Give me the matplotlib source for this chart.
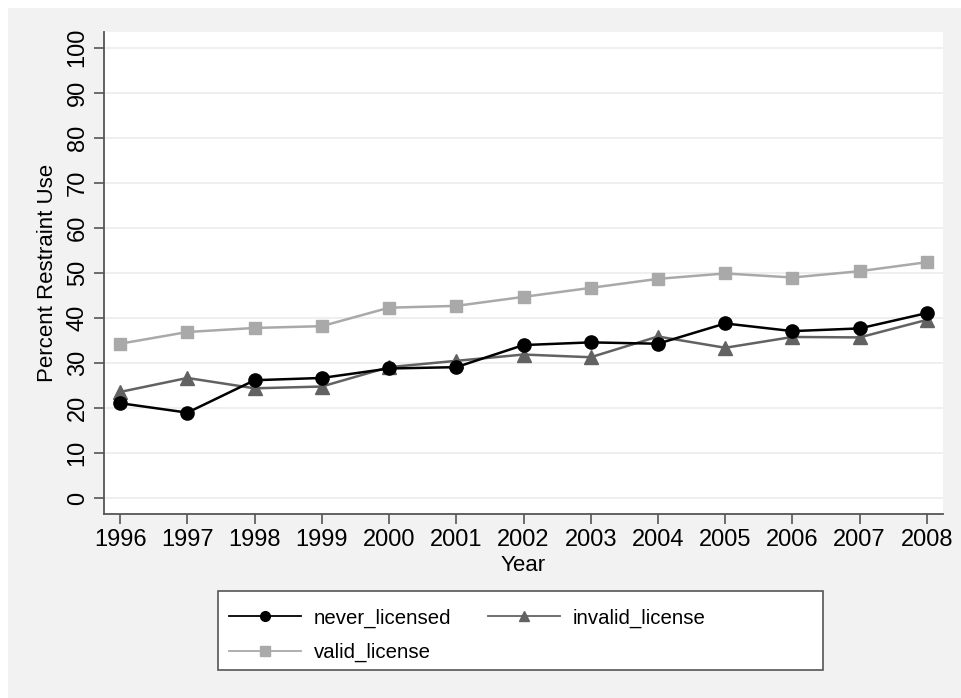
import matplotlib.pyplot as plt
from matplotlib.patches import Rectangle
from matplotlib.lines import Line2D

plt.rcParams['font.family'] = ['Liberation Sans', 'DejaVu Sans']

years = list(range(1996, 2009))
never_licensed = [21.1, 19.0, 26.2, 26.7, 28.8, 29.1, 34.0, 34.6, 34.3, 38.8, 37.1, 37.7, 41.1]
invalid_license = [23.6, 26.7, 24.4, 24.8, 29.1, 30.5, 31.9, 31.3, 35.9, 33.4, 35.8, 35.7, 39.6]
valid_license = [34.3, 36.9, 37.8, 38.2, 42.3, 42.7, 44.7, 46.7, 48.7, 49.9, 49.0, 50.4, 52.4]
y_ticks = list(range(0, 101, 10))

fig = plt.figure(figsize=(9.61, 6.98), dpi=100)
fig.patch.set_facecolor('white')
# grey outer panel like the Stata graph region
fig.patches.append(Rectangle((8 / 961, 0), 1, 1 - 8 / 698, transform=fig.transFigure,
                             facecolor='#f2f2f2', edgecolor='none', zorder=-10))

ax = fig.add_axes([104 / 961, 1 - 514 / 698, (943 - 104) / 961, (514 - 32) / 698])
ax.set_facecolor('white')

ax.plot(years, never_licensed, color='black', marker='o', markersize=9.5, lw=1.8, zorder=3)
ax.plot(years, invalid_license, color='#626262', marker='^', markersize=10, lw=1.8, zorder=2)
ax.plot(years, valid_license, color='#a9a9a9', marker='s', markersize=8.5, lw=1.8, zorder=1)

ax.set_xlim(1995.76, 2008.24)
ax.set_ylim(-3.5, 103.5)
ax.set_xticks(years)
ax.set_yticks(y_ticks)
for v in y_ticks:
    ax.axhline(v, color='#eeeeee', lw=1.3, zorder=0)

for s in ['top', 'right']:
    ax.spines[s].set_visible(False)
for s in ['left', 'bottom']:
    ax.spines[s].set_color('#555555')
    ax.spines[s].set_linewidth(1.3)
ax.tick_params(direction='out', length=7, width=1.2, color='#555555', labelsize=17, pad=4)
plt.setp(ax.get_yticklabels(), rotation=90, va='center')

ax.set_xlabel('Year', fontsize=16, labelpad=3)
ax.set_ylabel('Percent Restraint Use', fontsize=16, labelpad=6)

# legend box (drawn separately so it can be wider than its contents)
fig.patches.append(Rectangle((218 / 961, 1 - 670 / 698), (823 - 218) / 961, (670 - 591) / 698,
                             transform=fig.transFigure, facecolor='white',
                             edgecolor='#555555', lw=1.2, zorder=-5))
h_never = Line2D([], [], color='black', marker='o', markersize=7, lw=1.3)
h_invalid = Line2D([], [], color='#626262', marker='^', markersize=7.5, lw=1.3)
h_valid = Line2D([], [], color='#a9a9a9', marker='s', markersize=6.5, lw=1.3)
# column-major fill: order so rows read never/invalid, then valid
leg = fig.legend([h_never, h_valid, h_invalid],
                 ['never_licensed', 'valid_license', 'invalid_license'],
                 loc='upper left', bbox_to_anchor=(213 / 961, 1 - 592 / 698), ncol=2,
                 fontsize=14.7, frameon=False, handlelength=3.5, columnspacing=1.8,
                 borderpad=0.3, labelspacing=0.75, handletextpad=0.65)

fig.savefig('out.png', dpi=100)
